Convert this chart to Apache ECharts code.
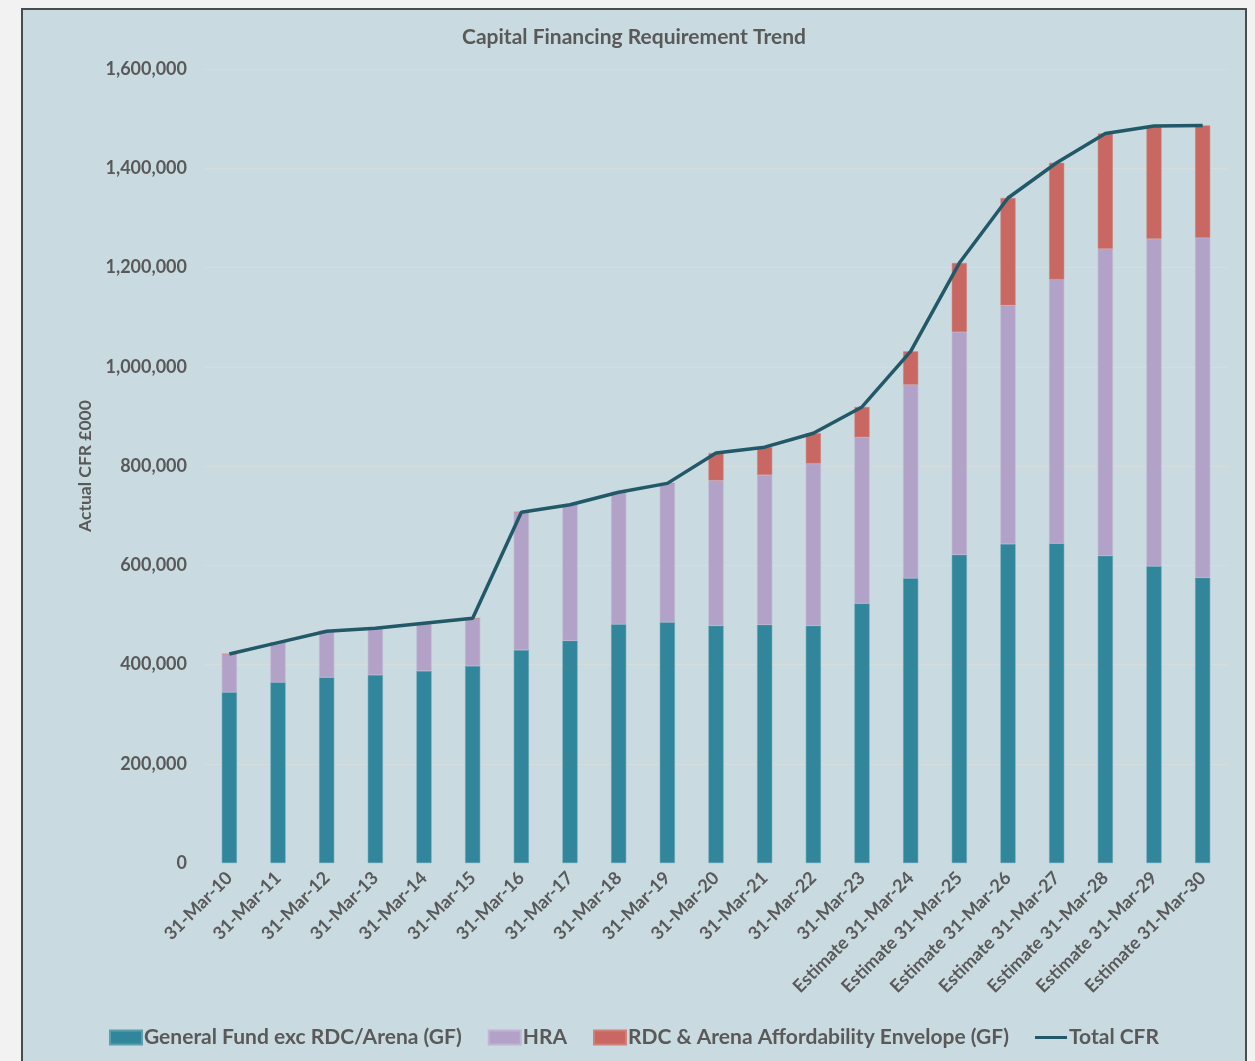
<!DOCTYPE html>
<html>
<head>
<meta charset="utf-8">
<script src="https://cdn.jsdelivr.net/npm/echarts@6/dist/echarts.min.js"></script>
<style>
html,body{margin:0;padding:0;background:#f2f2f2;width:1255px;height:1061px;overflow:hidden;}
#frame{position:absolute;left:21px;top:8px;width:1222px;height:1060px;border:2px solid #474c4e;border-bottom:none;background:#c9dae0;}
#chart{position:absolute;left:0;top:0;width:1222px;height:1053px;}
</style>
</head>
<body>
<div id="frame"><div id="chart"></div></div>
<script>
const categories = ['31-Mar-10','31-Mar-11','31-Mar-12','31-Mar-13','31-Mar-14','31-Mar-15','31-Mar-16','31-Mar-17','31-Mar-18','31-Mar-19','31-Mar-20','31-Mar-21','31-Mar-22','31-Mar-23','Estimate 31-Mar-24','Estimate 31-Mar-25','Estimate 31-Mar-26','Estimate 31-Mar-27','Estimate 31-Mar-28','Estimate 31-Mar-29','Estimate 31-Mar-30'];
const generalFund = [344000,364000,374000,379000,387000,397000,429000,448000,481000,485000,478000,480000,478000,523000,574000,621000,643000,644000,619000,598000,575000];
const hra = [77000,80000,93000,94000,96000,96000,278000,274000,266000,280000,293000,302000,327000,335000,390000,449000,481000,532000,619000,660000,685000];
const rdcArena = [0,0,0,0,0,0,0,0,0,0,55000,56000,61000,61000,67000,139000,216000,235000,232000,227000,226000];
const totalCFR = [421000,444000,467000,473000,483000,493000,707000,722000,747000,765000,826000,838000,866000,919000,1031000,1209000,1340000,1411000,1470000,1485000,1486000];
const yTicks = {min:0, max:1600000, interval:200000};

const FONT = 'Lato';
const TXT = '#595959';
const chart = echarts.init(document.getElementById('chart'), null, {renderer:'canvas'});
chart.setOption({
  backgroundColor:'#c9dae0',
  animation:false,
  textStyle:{fontFamily:FONT},
  title:{text:'Capital Financing Requirement Trend', left:'center', top:12,
    textStyle:{fontFamily:FONT, fontSize:21, fontWeight:'bold', color:TXT}},
  grid:{left:182, right:18, top:59, bottom:200, containLabel:false},
  legend:{bottom:10, left:'center', itemWidth:32, itemHeight:14, itemGap:26,
    textStyle:{fontFamily:FONT, fontSize:21, fontWeight:'bold', color:TXT, padding:[0,0,0,-3]},
    data:[
      {name:'General Fund exc RDC/Arena (GF)', icon:'rect'},
      {name:'HRA', icon:'rect'},
      {name:'RDC & Arena Affordability Envelope (GF)', icon:'rect'},
      {name:'Total CFR', icon:'path://M0,6 L32,6 L32,9 L0,9 Z'}
    ]},
  xAxis:{type:'category', data:categories,
    axisLine:{show:true, lineStyle:{color:'#d6d6d6'}},
    axisTick:{show:false},
    axisLabel:{rotate:45, interval:0, margin:12, fontFamily:FONT, fontSize:18, fontWeight:'bold', color:TXT}},
  yAxis:{type:'value', min:yTicks.min, max:yTicks.max, interval:yTicks.interval,
    name:'Actual CFR £000', nameLocation:'middle', nameGap:102, nameRotate:90,
    nameTextStyle:{fontFamily:FONT, fontSize:17.5, fontWeight:'bold', color:TXT},
    axisLine:{show:false}, axisTick:{show:false},
    splitLine:{lineStyle:{color:'#d9dcdc', width:1}},
    axisLabel:{margin:18, fontFamily:FONT, fontSize:18, fontWeight:'bold', color:TXT,
      formatter:v=>v.toLocaleString('en-GB')}},
  series:[
    {name:'General Fund exc RDC/Arena (GF)', type:'bar', stack:'cfr', data:generalFund, barWidth:15,
      itemStyle:{color:'#31869b', borderColor:'#5b9fb0', borderWidth:0.5}},
    {name:'HRA', type:'bar', stack:'cfr', data:hra, barWidth:15,
      itemStyle:{color:'#b3a2c7', borderColor:'#c2b4d2', borderWidth:0.5}},
    {name:'RDC & Arena Affordability Envelope (GF)', type:'bar', stack:'cfr', data:rdcArena, barWidth:15,
      itemStyle:{color:'#c96762', borderColor:'#d1807b', borderWidth:0.5}},
    {name:'Total CFR', type:'line', data:totalCFR, symbol:'none', z:5,
      lineStyle:{color:'#215968', width:3.5}, itemStyle:{color:'#215968'}}
  ]
});
</script>
</body>
</html>
